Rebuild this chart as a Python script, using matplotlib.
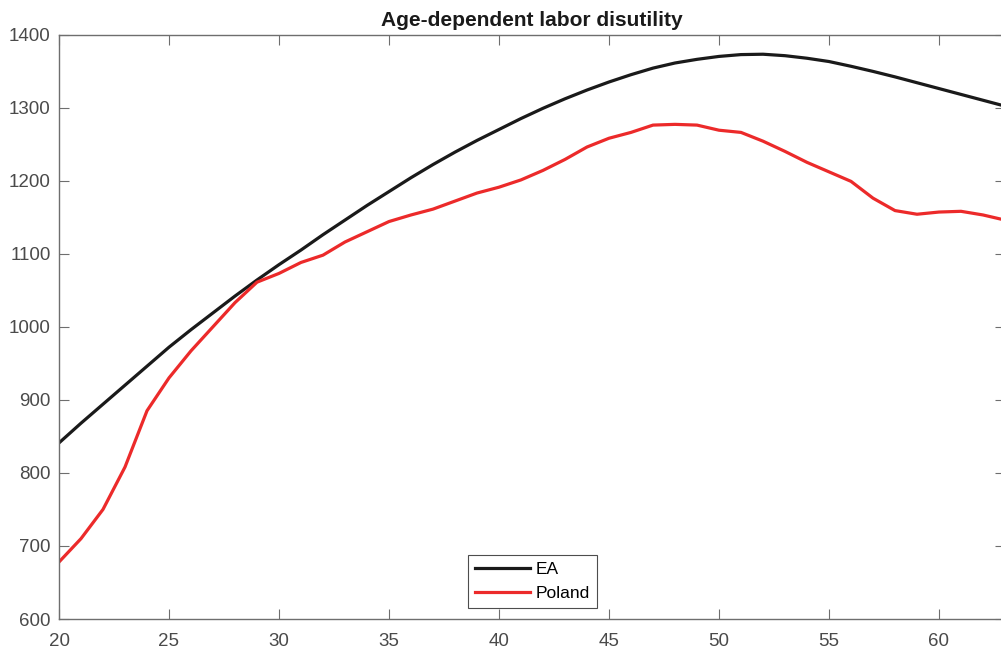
import matplotlib

matplotlib.use("Agg")
import matplotlib.pyplot as plt

AGES = list(range(20, 64))

EA = [
    841, 868, 894, 920, 946, 972, 996, 1019, 1042, 1064,
    1085, 1105, 1126, 1146, 1166, 1185, 1204, 1222, 1239, 1255,
    1270, 1285, 1299, 1312, 1324, 1335, 1345, 1354, 1361, 1366,
    1370, 1372.5, 1373, 1371, 1367.5, 1363, 1356.5, 1349.5, 1342, 1334,
    1326, 1318, 1310, 1302,
]

POLAND = [
    678, 710, 750, 808, 885, 930, 967, 1000, 1033, 1061,
    1073, 1088, 1098, 1116, 1130, 1144, 1153, 1161, 1172, 1183,
    1191, 1201, 1214, 1229, 1246, 1258, 1266, 1276, 1277, 1276,
    1269, 1266, 1254, 1240, 1225, 1212, 1199, 1176, 1159, 1154,
    1157, 1158, 1153, 1146,
]

X_TICKS = [20, 25, 30, 35, 40, 45, 50, 55, 60]
Y_TICKS = [600, 700, 800, 900, 1000, 1100, 1200, 1300, 1400]

plt.rcParams["font.family"] = ["Liberation Sans", "DejaVu Sans"]

W, H = 1001, 652
fig = plt.figure(figsize=(W / 100, H / 100), dpi=100)
left, right, top, bottom = 59, 1005, 34.5, 619
ax = fig.add_axes([left / W, 1 - bottom / H, (right - left) / W, (bottom - top) / H])

ax.plot(AGES, EA, color="#1a1a1a", lw=2.3, label="EA", solid_joinstyle="round")
ax.plot(AGES, POLAND, color="#ec2a2a", lw=2.3, label="Poland", solid_joinstyle="round")

ax.set_xlim(20, 63)
ax.set_ylim(600, 1400)
ax.set_xticks(X_TICKS)
ax.set_yticks(Y_TICKS)

spine_col = "#6e6e6e"
for s in ax.spines.values():
    s.set_color(spine_col)
    s.set_linewidth(1.0)
    s.set_clip_on(False)
ax.tick_params(axis="both", direction="in", length=7, width=0.8, color=spine_col,
               labelsize=13.5, labelcolor="#4a4a4a", top=True, right=True)
ax.tick_params(axis="x", pad=10)
ax.tick_params(axis="y", pad=6)

ax.set_title("Age-dependent labor disutility", fontsize=15, fontweight="bold",
             color="#1a1a1a", pad=6)

leg = ax.legend(loc="lower left", bbox_to_anchor=(0.432, 0.019), borderaxespad=0,
                fontsize=12.5, handlelength=3.2, handletextpad=0.3, borderpad=0.4,
                labelspacing=0.5, fancybox=False, framealpha=1)
leg.get_frame().set_edgecolor("#4d4d4d")
leg.get_frame().set_linewidth(0.8)

fig.savefig("out.png", dpi=100)
